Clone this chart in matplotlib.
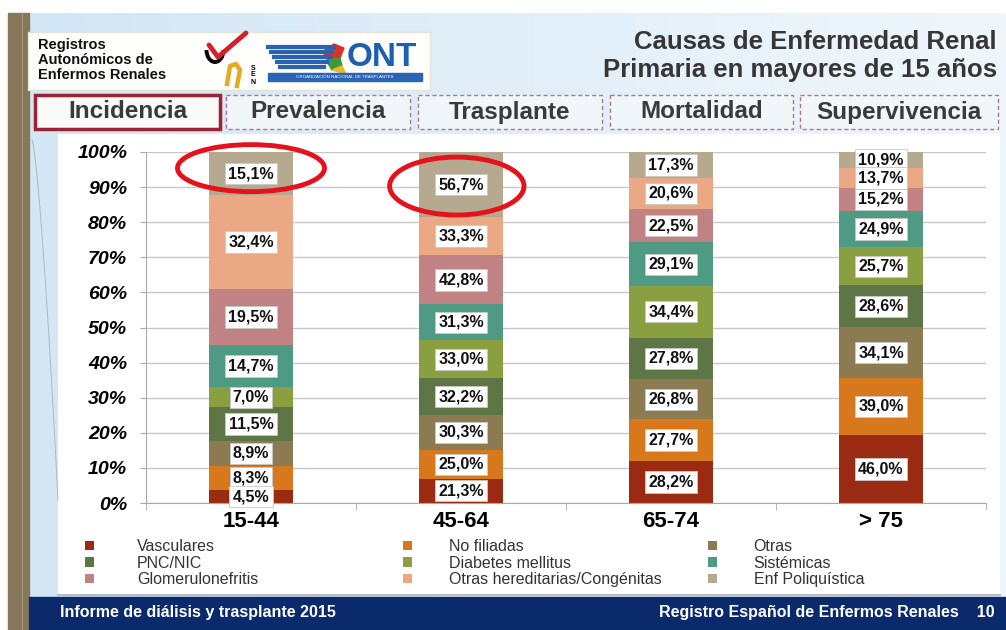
import numpy as np
import matplotlib
matplotlib.use("Agg")
import matplotlib.pyplot as plt
from matplotlib.patches import Rectangle, Ellipse, Arc, Polygon

plt.rcParams['font.family'] = ['Liberation Sans', 'DejaVu Sans']

# datos
grupos = ['15-44', '45-64', '65-74', '> 75']
causas = ['Vasculares', 'No filiadas', 'Otras', 'PNC/NIC', 'Diabetes mellitus',
          'Sistémicas', 'Glomerulonefritis', 'Otras hereditarias/Congénitas',
          'Enf Poliquística']
colores = ['#9b2a12', '#d8781c', '#8c7a50', '#5e7546', '#8aa040',
           '#4f9a82', '#c08282', '#eaa884', '#b5a98f']
vasculares = [4.5, 21.3, 28.2, 46.0]
no_filiadas = [8.3, 25.0, 27.7, 39.0]
otras = [8.9, 30.3, 26.8, 34.1]
pnc_nic = [11.5, 32.2, 27.8, 28.6]
diabetes = [7.0, 33.0, 34.4, 25.7]
sistemicas = [14.7, 31.3, 29.1, 24.9]
glomerulo = [19.5, 42.8, 22.5, 15.2]
otras_hered = [32.4, 33.3, 20.6, 13.7]
poliquistica = [15.1, 56.7, 17.3, 10.9]
pestanas = ['Incidencia', 'Prevalencia', 'Trasplante', 'Mortalidad', 'Supervivencia']

valores = np.array([vasculares, no_filiadas, otras, pnc_nic, diabetes,
                    sistemicas, glomerulo, otras_hered, poliquistica])
alturas = valores / valores.sum(axis=0) * 100

W, H = 1006, 630
fig = plt.figure(figsize=(W / 100, H / 100), dpi=100)

# fondo de la diapositiva
bg = fig.add_axes([0, 0, 1, 1], zorder=0)
bg.set_xlim(0, W)
bg.set_ylim(H, 0)
bg.axis('off')
grad = np.linspace(0, 1, 256).reshape(1, -1)
bg.imshow(grad, extent=(29, W, 597, 13), aspect='auto',
          cmap=matplotlib.colors.LinearSegmentedColormap.from_list('b', ['#d3e6f5', '#f0f7fc']))
bg.add_patch(Rectangle((8, 13), 21, H - 13, color='#85775a'))
bg.plot([22, 22], [13, H], color='#a89878', lw=0.8)
tt = np.linspace(0, 1, 50)
bg.plot(32 + 26 * tt, 140 + 360 * tt ** 1.4, color='#b0b8c0', lw=0.7)
bg.add_patch(Rectangle((58, 134), 942, 461, facecolor='white', edgecolor='none'))
bg.plot([58, 1000], [595, 595], color='#b8bcc4', lw=1.5)
bg.add_patch(Rectangle((29, 597), W - 29, H - 597, color='#0b2a6c'))
bg.text(60, 612, 'Informe de diálisis y trasplante 2015', color='white',
        fontsize=11.5, fontweight='bold', va='center')
bg.text(995, 612, 'Registro Español de Enfermos Renales    10', color='white',
        fontsize=11.5, fontweight='bold', va='center', ha='right')

# cabecera
bg.add_patch(Rectangle((28, 32), 402, 58, facecolor='#fdfdfb', edgecolor='#e4e4d6', lw=1))
bg.text(38, 60, 'Registros\nAutonómicos de\nEnfermos Renales', fontsize=10.5,
        fontweight='bold', va='center', linespacing=1.1, color='#111111')
bg.add_patch(Arc((215, 50), 17, 24, theta1=0, theta2=180, color='black', lw=2.8))
bg.plot([209, 218, 246], [45, 57, 33], color='#d4202c', lw=3.5, solid_capstyle='round')
bg.plot([227, 230, 236, 240, 237], [84, 66, 64, 70, 86], color='#e6aa22', lw=3.2)
for i, ch in enumerate('SEN'):
    bg.text(253, 68 + i * 7, ch, fontsize=5, fontweight='bold', ha='center', va='center')
for i, ln in enumerate([66, 60, 56, 50, 44]):
    bg.plot([268 + i * 3, 268 + i * 3 + ln], [47 + i * 5, 47 + i * 5], color='#2a62b2', lw=3)
bg.add_patch(Polygon([[322, 52], [334, 44], [344, 48], [340, 58], [330, 60]], color='#d8322a'))
bg.add_patch(Polygon([[326, 60], [340, 58], [342, 66], [332, 70]], color='#3c9a3a'))
bg.add_patch(Polygon([[332, 70], [342, 66], [346, 74]], color='#e8b830'))
bg.text(347, 57, 'ONT', fontsize=24, fontweight='bold', color='#1f5fb0', va='center')
bg.add_patch(Rectangle((268, 73), 154, 8, color='#2a64b4'))
bg.text(345, 77, 'ORGANIZACIÓN NACIONAL DE TRASPLANTES', fontsize=3.2, color='white',
        ha='center', va='center')

bg.text(997, 42, 'Causas de Enfermedad Renal', fontsize=18.5, fontweight='bold',
        color='#363636', ha='right', va='center')
bg.text(997, 70, 'Primaria en mayores de 15 años', fontsize=18.5, fontweight='bold',
        color='#363636', ha='right', va='center')

# pestañas
tab_x = [(35, 220), (226, 410), (418, 602), (610, 793), (800, 998)]
for i, (nombre, (x0, x1)) in enumerate(zip(pestanas, tab_x)):
    if i == 0:
        bg.add_patch(Rectangle((x0, 95), x1 - x0, 34, facecolor='#fafafa',
                               edgecolor='#9b2335', lw=2.5))
    else:
        bg.add_patch(Rectangle((x0, 95), x1 - x0, 34, facecolor='#f1f6fb',
                               edgecolor='#b07888', lw=1, ls=(0, (3, 2))))
    bg.text((x0 + x1) / 2, 112, nombre, fontsize=17.5, fontweight='bold',
            color='#3a3a3a', ha='center', va='center')

# gráfico
ax = fig.add_axes([146 / W, 1 - 503 / H, 840 / W, 351 / H], zorder=2)
ax.patch.set_alpha(0)
x = np.arange(len(grupos))
base = np.zeros(len(grupos))
barras = []
for i, causa in enumerate(causas):
    b = ax.bar(x, alturas[i], 0.4, bottom=base, color=colores[i], label=causa, zorder=2)
    barras.append(b)
    for j in range(len(grupos)):
        ax.text(x[j], base[j] + alturas[i][j] / 2,
                f'{valores[i][j]:.1f}%'.replace('.', ','),
                ha='center', va='center', fontsize=11.5, fontweight='bold',
                color='#111111', zorder=4.2 - i * 0.01,
                bbox=dict(boxstyle='square,pad=0.2', facecolor='white',
                          edgecolor='#c8c8c8', lw=0.6))
    base += alturas[i]

ax.set_xlim(-0.5, 3.5)
ax.set_ylim(0, 100)
ax.set_yticks(np.arange(0, 101, 10))
ax.set_yticklabels([f'{v}%' for v in range(0, 101, 10)], fontsize=14,
                   fontweight='bold', fontstyle='italic')
ax.set_xticks(x)
ax.set_xticklabels(grupos, fontsize=16, fontweight='bold')
ax.set_xticks(np.arange(-0.5, 3.6, 1), minor=True)
ax.tick_params(axis='x', which='major', length=0, pad=6)
ax.tick_params(axis='x', which='minor', length=5, color='#a8a8a8')
ax.tick_params(axis='y', length=4.5, color='#a8a8a8', pad=9)
ax.grid(axis='y', color='#c8c8c8', lw=1, zorder=0)
ax.set_axisbelow(True)
for s in ['top', 'right']:
    ax.spines[s].set_visible(False)
for s in ['left', 'bottom']:
    ax.spines[s].set_color('#a8a8a8')

# círculos rojos
ax.add_patch(Ellipse((0.0, 95.4), 0.70, 13.4, fill=False, edgecolor='#e5121c',
                     lw=3.5, zorder=5, clip_on=False))
ax.add_patch(Ellipse((0.98, 90.3), 0.64, 16.5, fill=False, edgecolor='#e5121c',
                     lw=3.5, zorder=5, clip_on=False))

# leyenda en tres columnas
col_x = [85, 403, 708]
pads = [2.7, 2.3, 2.3]
for c in range(3):
    hs = [barras[c + 3 * r] for r in range(3)]
    fig.legend(hs, [h.get_label() for h in hs], loc='upper left',
               bbox_to_anchor=(col_x[c] / W, 1 - 539 / H), frameon=False,
               fontsize=11.5, handlelength=0.55, handleheight=0.55,
               handletextpad=pads[c], labelspacing=0.1, borderpad=0,
               borderaxespad=0, labelcolor='#333333')

fig.savefig('out.png', dpi=100)
